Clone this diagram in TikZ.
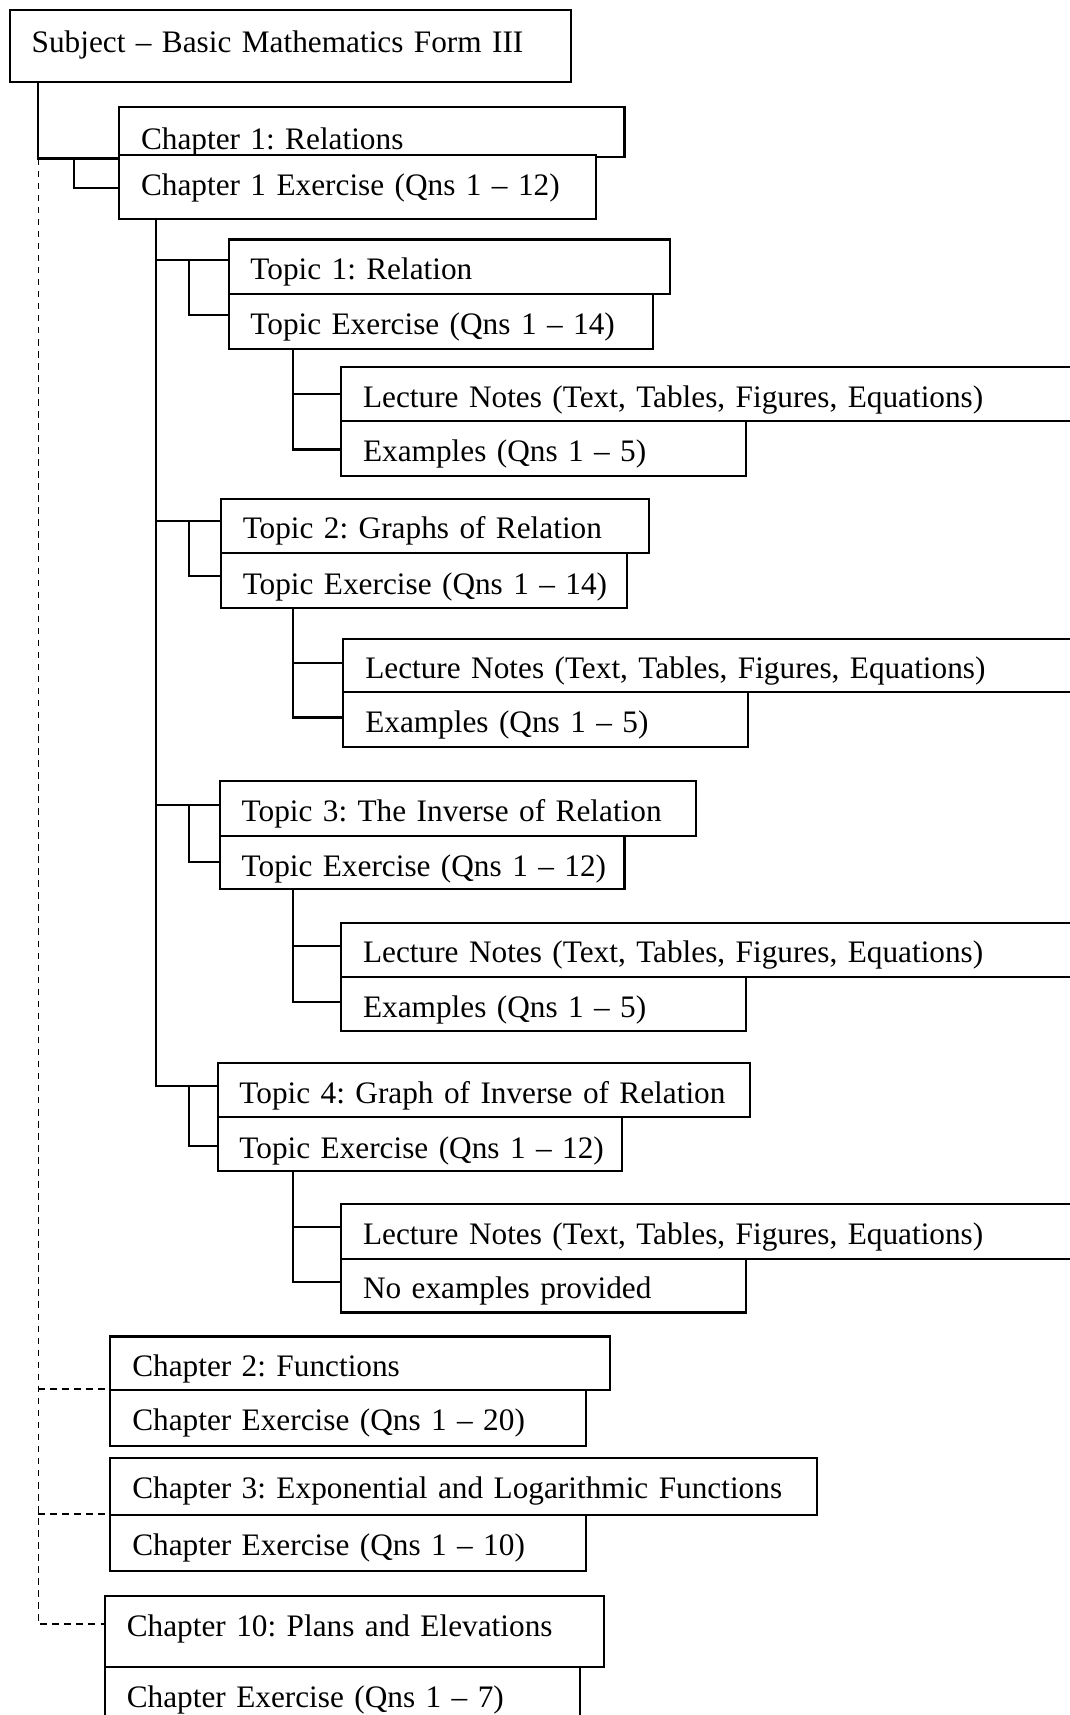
\documentclass[tikz,border=0pt]{standalone}
\usepackage{fontspec}
\setmainfont{Liberation Serif}
\usetikzlibrary{calc}

\begin{document}
\begin{tikzpicture}[
  x=1pt, y=-1pt,
  font=\fontsize{28.6}{35}\selectfont,
  % box: {text width}{text height}{text depth}; the label stays on one line
  box/.style n args={3}{draw, line width=1.9pt, fill=white, anchor=north west,
    inner xsep=20pt, inner ysep=0pt, align=left,
    text width=#1pt, text height=#2pt, text depth=#3pt,
    execute at begin node={\frenchspacing\leavevmode\hbox\bgroup},
    execute at end node={\egroup}},
  link/.style={draw, line width=1.9pt},
  dlink/.style={draw, line width=1.4pt, dash pattern=on 6pt off 5pt}
]
\useasboundingbox (0,0) rectangle (978,1568);

% subject and chapter 1
\node[box={473}{39}{27}] (subj) at (8,8) {Subject – Basic Mathematics Form III};
\node[box={422}{39}{7}]  (ch1) at (108,97) {Chapter 1: Relations};
\node[box={396}{37}{21}] (ch1ex) at (108,141) {Chapter 1 Exercise (Qns 1 – 12)};

% topic 1
\node[box={364}{37}{13}] (t1) at (208,218) {Topic 1: Relation};
\node[box={348}{37}{13}] (t1ex) at (208,268) {Topic Exercise (Qns 1 – 14)};
\node[box={660}{37}{12}] (l1) at (311,335) {Lecture Notes (Text, Tables, Figures, Equations)};
\node[box={330}{37}{13}] (e1) at (311,384) {Examples (Qns 1 – 5)};

% topic 2
\node[box={351}{36}{14}] (t2) at (201,455) {Topic 2: Graphs of Relation};
\node[box={331}{38}{12}] (t2ex) at (201,505) {Topic Exercise (Qns 1 – 14)};
\node[box={660}{36}{13}] (l2) at (313,583) {Lecture Notes (Text, Tables, Figures, Equations)};
\node[box={330}{37}{13}] (e2) at (313,632) {Examples (Qns 1 – 5)};

% topic 3
\node[box={395}{37}{13}] (t3) at (200,713) {Topic 3: The Inverse of Relation};
\node[box={330}{37}{12}] (t3ex) at (200,763) {Topic Exercise (Qns 1 – 12)};
\node[box={660}{36}{13}] (l3) at (311,843) {Lecture Notes (Text, Tables, Figures, Equations)};
\node[box={330}{37}{13}] (e3) at (311,892) {Examples (Qns 1 – 5)};

% topic 4
\node[box={447}{37}{12}] (t4) at (198,971) {Topic 4: Graph of Inverse of Relation};
\node[box={330}{38}{12}] (t4ex) at (198,1020) {Topic Exercise (Qns 1 – 12)};
\node[box={660}{37}{13}] (l4) at (311,1100) {Lecture Notes (Text, Tables, Figures, Equations)};
\node[box={330}{36}{13}] (e4) at (311,1150) {No examples provided};

% remaining chapters
\node[box={417}{37}{12}] (ch2) at (100,1221) {Chapter 2: Functions};
\node[box={395}{37}{14}] (ch2ex) at (100,1270) {Chapter Exercise (Qns 1 – 20)};
\node[box={606}{37}{15}] (ch3) at (100,1332) {Chapter 3: Exponential and Logarithmic Functions};
\node[box={395}{37}{14}] (ch3ex) at (100,1384) {Chapter Exercise (Qns 1 – 10)};
\node[box={416}{37}{28}] (ch10) at (95,1458) {Chapter 10: Plans and Elevations};
\node[box={394}{37}{33}] (ch10ex) at (95,1523) {Chapter Exercise (Qns 1 – 7)};

% spine positions
\coordinate (rootx) at (35,0);
\coordinate (chx) at (68,0);
\coordinate (spx) at (143,0);
\coordinate (bx) at (173,0);
\coordinate (lx) at (268,0);

% subject to chapters
\draw[link] (rootx |- subj.south) -- (rootx |- ch1.south west) -- (ch1.south west);
\coordinate (ch1exin) at ($(ch1ex.north west)+(0,31)$);
\draw[link] (chx |- ch1.south west) |- (ch1exin);
\coordinate (ch10in) at ($(ch10.north west)+(0,27)$);
\draw[dlink] (rootx |- ch1.south west) -- (rootx |- ch10in) -- (ch10in);
\draw[dlink] (rootx |- ch2ex.north west) -- (ch2ex.north west);
\draw[dlink] (rootx |- ch3ex.north west) -- (ch3ex.north west);

% chapter 1 to topics
\coordinate (t1in) at ($(t1.north west)+(0,20)$);
\coordinate (t2in) at ($(t2.north west)+(0,21)$);
\coordinate (t3in) at ($(t3.north west)+(0,23)$);
\coordinate (t4in) at ($(t4.north west)+(0,22)$);
\draw[link] (spx |- ch1ex.south) -- (spx |- t4in) -- (t4in);
\draw[link] (spx |- t1in) -- (t1in);
\draw[link] (spx |- t2in) -- (t2in);
\draw[link] (spx |- t3in) -- (t3in);

% topics to topic exercises
\coordinate (t1exin) at ($(t1ex.north west)+(0,20)$);
\coordinate (t2exin) at ($(t2ex.north west)+(0,22)$);
\coordinate (t3exin) at ($(t3ex.north west)+(0,25)$);
\coordinate (t4exin) at ($(t4ex.north west)+(0,28)$);
\draw[link] (bx |- t1in) |- (t1exin);
\draw[link] (bx |- t2in) |- (t2exin);
\draw[link] (bx |- t3in) |- (t3exin);
\draw[link] (bx |- t4in) |- (t4exin);

% topic exercises to notes and examples
\coordinate (l1in) at ($(l1.north west)+(0,25)$);
\coordinate (e1in) at ($(e1.north west)+(0,27)$);
\coordinate (l2in) at ($(l2.north west)+(0,23)$);
\coordinate (e2in) at ($(e2.north west)+(0,24)$);
\coordinate (l3in) at ($(l3.north west)+(0,22)$);
\coordinate (e3in) at ($(e3.north west)+(0,24)$);
\coordinate (l4in) at ($(l4.north west)+(0,22)$);
\coordinate (e4in) at ($(e4.north west)+(0,22)$);
\draw[link] (lx |- t1ex.south) |- (e1in);
\draw[link] (lx |- l1in) -- (l1in);
\draw[link] (lx |- t2ex.south) |- (e2in);
\draw[link] (lx |- l2in) -- (l2in);
\draw[link] (lx |- t3ex.south) |- (e3in);
\draw[link] (lx |- l3in) -- (l3in);
\draw[link] (lx |- t4ex.south) |- (e4in);
\draw[link] (lx |- l4in) -- (l4in);
\end{tikzpicture}
\end{document}
